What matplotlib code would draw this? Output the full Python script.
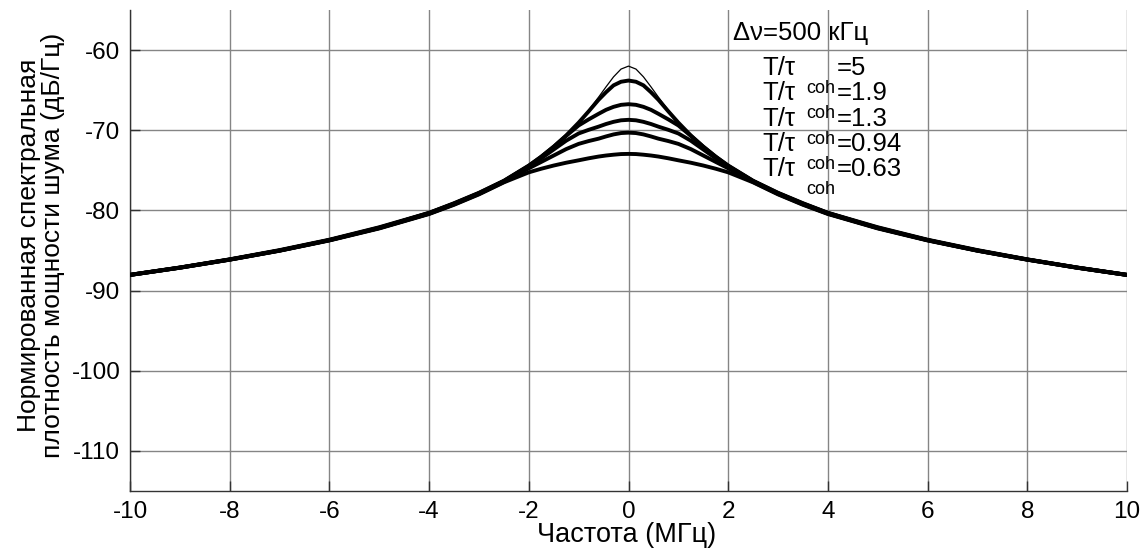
import numpy as np
import matplotlib
matplotlib.use("Agg")
import matplotlib.pyplot as plt

plt.rcParams['font.family'] = ['Liberation Sans', 'DejaVu Sans']
plt.rcParams['axes.unicode_minus'] = False

# frequency (MHz), positive half; curves are symmetric about 0
freq_half = [0, 0.15, 0.3, 0.45, 0.6, 0.8, 1.0, 1.25, 1.5, 1.75, 2.0, 2.5, 3.0, 3.5, 4, 5, 6, 7, 8, 9, 10]

# thin reference curve (ideal line shape)
ref_half = [-62.0, -62.37, -63.34, -64.58, -65.87, -67.51, -68.99, -70.60, -72.00, -73.22, -74.30,
            -76.15, -77.68, -78.99, -80.13, -82.04, -83.61, -84.94, -86.10, -87.12, -88.03]

ratios = ["5", "1.9", "1.3", "0.94", "0.63"]
curve_5 = [-63.8, -63.95, -64.4, -65.25, -66.2, -67.65, -69.05, -70.65, -72.05, -73.3, -74.4,
           -76.3, -77.8, -79.1, -80.3, -82.1, -83.65, -84.95, -86.1, -87.12, -88.03]
curve_1_9 = [-66.75, -66.83, -67.08, -67.45, -67.95, -68.65, -69.4, -70.7, -72.05, -73.3, -74.45,
             -76.35, -77.85, -79.15, -80.35, -82.15, -83.7, -85.0, -86.12, -87.13, -88.04]
curve_1_3 = [-68.7, -68.76, -68.95, -69.22, -69.55, -69.95, -70.4, -71.3, -72.4, -73.5, -74.55,
             -76.4, -77.9, -79.2, -80.4, -82.2, -83.7, -85.0, -86.13, -87.14, -88.05]
curve_0_94 = [-70.3, -70.35, -70.52, -70.77, -71.05, -71.35, -71.7, -72.35, -73.15, -73.95, -74.75,
              -76.45, -77.95, -79.25, -80.4, -82.2, -83.72, -85.02, -86.14, -87.15, -88.05]
curve_0_63 = [-72.95, -72.97, -73.05, -73.15, -73.28, -73.5, -73.75, -74.05, -74.4, -74.8, -75.25,
              -76.5, -78.0, -79.3, -80.45, -82.25, -83.75, -85.03, -86.15, -87.15, -88.05]

xticks = [-10, -8, -6, -4, -2, 0, 2, 4, 6, 8, 10]
yticks = [-110, -100, -90, -80, -70, -60]

def full(xh, yh):
    xh = np.asarray(xh, float); yh = np.asarray(yh, float)
    x = np.concatenate([-xh[:0:-1], xh])
    y = np.concatenate([yh[:0:-1], yh])
    return x, y

W, H = 1145, 552
fig = plt.figure(figsize=(W / 100, H / 100), dpi=100)
ax = fig.add_axes([130 / W, 1 - 491 / H, (1127 - 130) / W, (491 - 10) / H])

ax.set_xlim(-10, 10)
ax.set_ylim(-115, -55)
ax.set_xticks(xticks)
ax.set_yticks(yticks)
ax.grid(True, color='#858585', linewidth=1.0)
ax.set_axisbelow(True)
for s in ['top', 'right']:
    ax.spines[s].set_visible(False)
for s in ['left', 'bottom']:
    ax.spines[s].set_color('#333333')
    ax.spines[s].set_linewidth(1.0)
ax.tick_params(direction='in', length=7, width=1, color='#333333', labelsize=17.5, pad=7)

x, y = full(freq_half, ref_half)
ax.plot(x, y, color='black', linewidth=0.9, zorder=3)
for cv in [curve_5, curve_1_9, curve_1_3, curve_0_94, curve_0_63]:
    x, y = full(freq_half, cv)
    ax.plot(x, y, color='black', linewidth=2.8, zorder=3, solid_capstyle='butt')

def px(xp, yp):
    return xp / W, 1 - yp / H

fig.text(*px(733, 40), "Δν=500 кГц", fontsize=18.5, ha='left', va='baseline')
for i, r in enumerate(ratios):
    yb = 75 + 25.3 * i
    fig.text(*px(762, yb), "T/τ", fontsize=18.5, ha='left', va='baseline')
    fig.text(*px(806, yb + 18), "coh", fontsize=13, ha='left', va='baseline')
    fig.text(*px(837, yb), "=" + r, fontsize=18.5, ha='left', va='baseline')

fig.text(*px(41, 245), "Нормированная спектральная\nплотность мощности шума (дБ/Гц)",
         rotation=90, ha='center', va='center', fontsize=19, multialignment='center',
         linespacing=0.95)
fig.text(*px(627, 535), "Частота (МГц)", ha='center', va='center', fontsize=19.5)

fig.savefig("out.png", dpi=100)
